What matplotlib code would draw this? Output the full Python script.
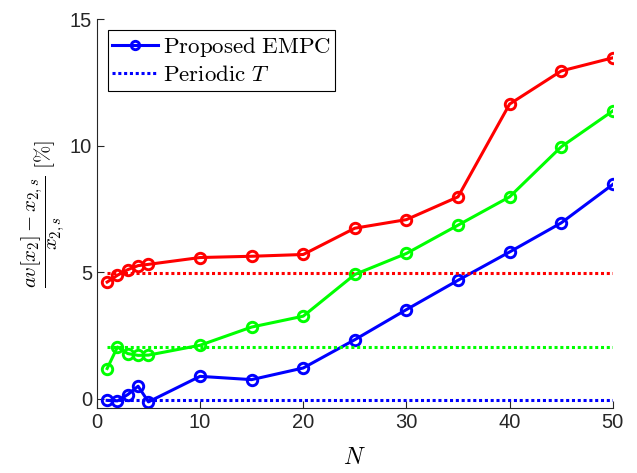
import numpy as np
import matplotlib
matplotlib.use('Agg')
import matplotlib.pyplot as plt

plt.rcParams['font.family'] = ['Liberation Sans', 'DejaVu Sans']
plt.rcParams['mathtext.fontset'] = 'cm'

# horizon lengths
N = [1, 2, 3, 4, 5, 10, 15, 20, 25, 30, 35, 40, 45, 50]

# proposed EMPC, three cases
empc_red = [4.61, 4.88, 5.10, 5.26, 5.31, 5.58, 5.63, 5.70, 6.74, 7.08, 7.98, 11.65, 12.96, 13.48]
empc_green = [1.19, 2.04, 1.78, 1.71, 1.72, 2.11, 2.83, 3.26, 4.91, 5.74, 6.86, 7.98, 9.96, 11.38]
empc_blue = [-0.07, -0.09, 0.16, 0.49, -0.13, 0.88, 0.75, 1.21, 2.33, 3.52, 4.68, 5.80, 6.95, 8.47]

# periodic T reference levels
periodic_red = 4.95
periodic_green = 2.04
periodic_blue = -0.07

fig = plt.figure(figsize=(6.37, 4.73), dpi=100)
ax = fig.add_axes([0.152, 0.137, 0.81, 0.822])

dots = (0, (1, 0.9))
mk = dict(marker='o', markersize=7.5, markerfacecolor='none', markeredgewidth=2.1)
ax.plot(N, empc_blue, color='#0000ff', lw=2.2, label=r'$\mathrm{Proposed\ EMPC}$', **mk)
ax.plot([N[0], N[-1]], [periodic_blue] * 2, color='#0000ff', lw=2.2, ls=dots, label=r'$\mathrm{Periodic}\ T$')
ax.plot(N, empc_red, color='#ff0000', lw=2.2, **mk)
ax.plot([N[0], N[-1]], [periodic_red] * 2, color='#ff0000', lw=2.2, ls=dots)
ax.plot(N, empc_green, color='#00ff00', lw=2.2, **mk)
ax.plot([N[0], N[-1]], [periodic_green] * 2, color='#00ff00', lw=2.2, ls=dots)

ax.set_xlim(0, 50)
ax.set_ylim(-0.38, 15)
ax.set_xticks([0, 10, 20, 30, 40, 50])
ax.set_yticks([0, 5, 10, 15])
for s in ['top', 'right']:
    ax.spines[s].set_visible(False)
for s in ['left', 'bottom']:
    ax.spines[s].set_color('#262626')
    ax.spines[s].set_linewidth(0.8)
ax.tick_params(direction='in', length=5, width=0.8, colors='#262626', labelsize=14.5)

ax.set_xlabel(r'$N$', fontsize=17, labelpad=11)
ax.set_ylabel(r'$\dfrac{av[x_2]-x_{2,s}}{x_{2,s}}\ [\%]$', fontsize=15, labelpad=2)

leg = ax.legend(loc='upper left', bbox_to_anchor=(0.021, 0.972), borderaxespad=0,
                fontsize=16.5, fancybox=False, edgecolor='black', framealpha=1,
                handlelength=2.0, handletextpad=0.2, borderpad=0.2, labelspacing=0.2,
                markerscale=0.8)
leg.get_frame().set_linewidth(0.8)

fig.savefig('out.png', dpi=100)
